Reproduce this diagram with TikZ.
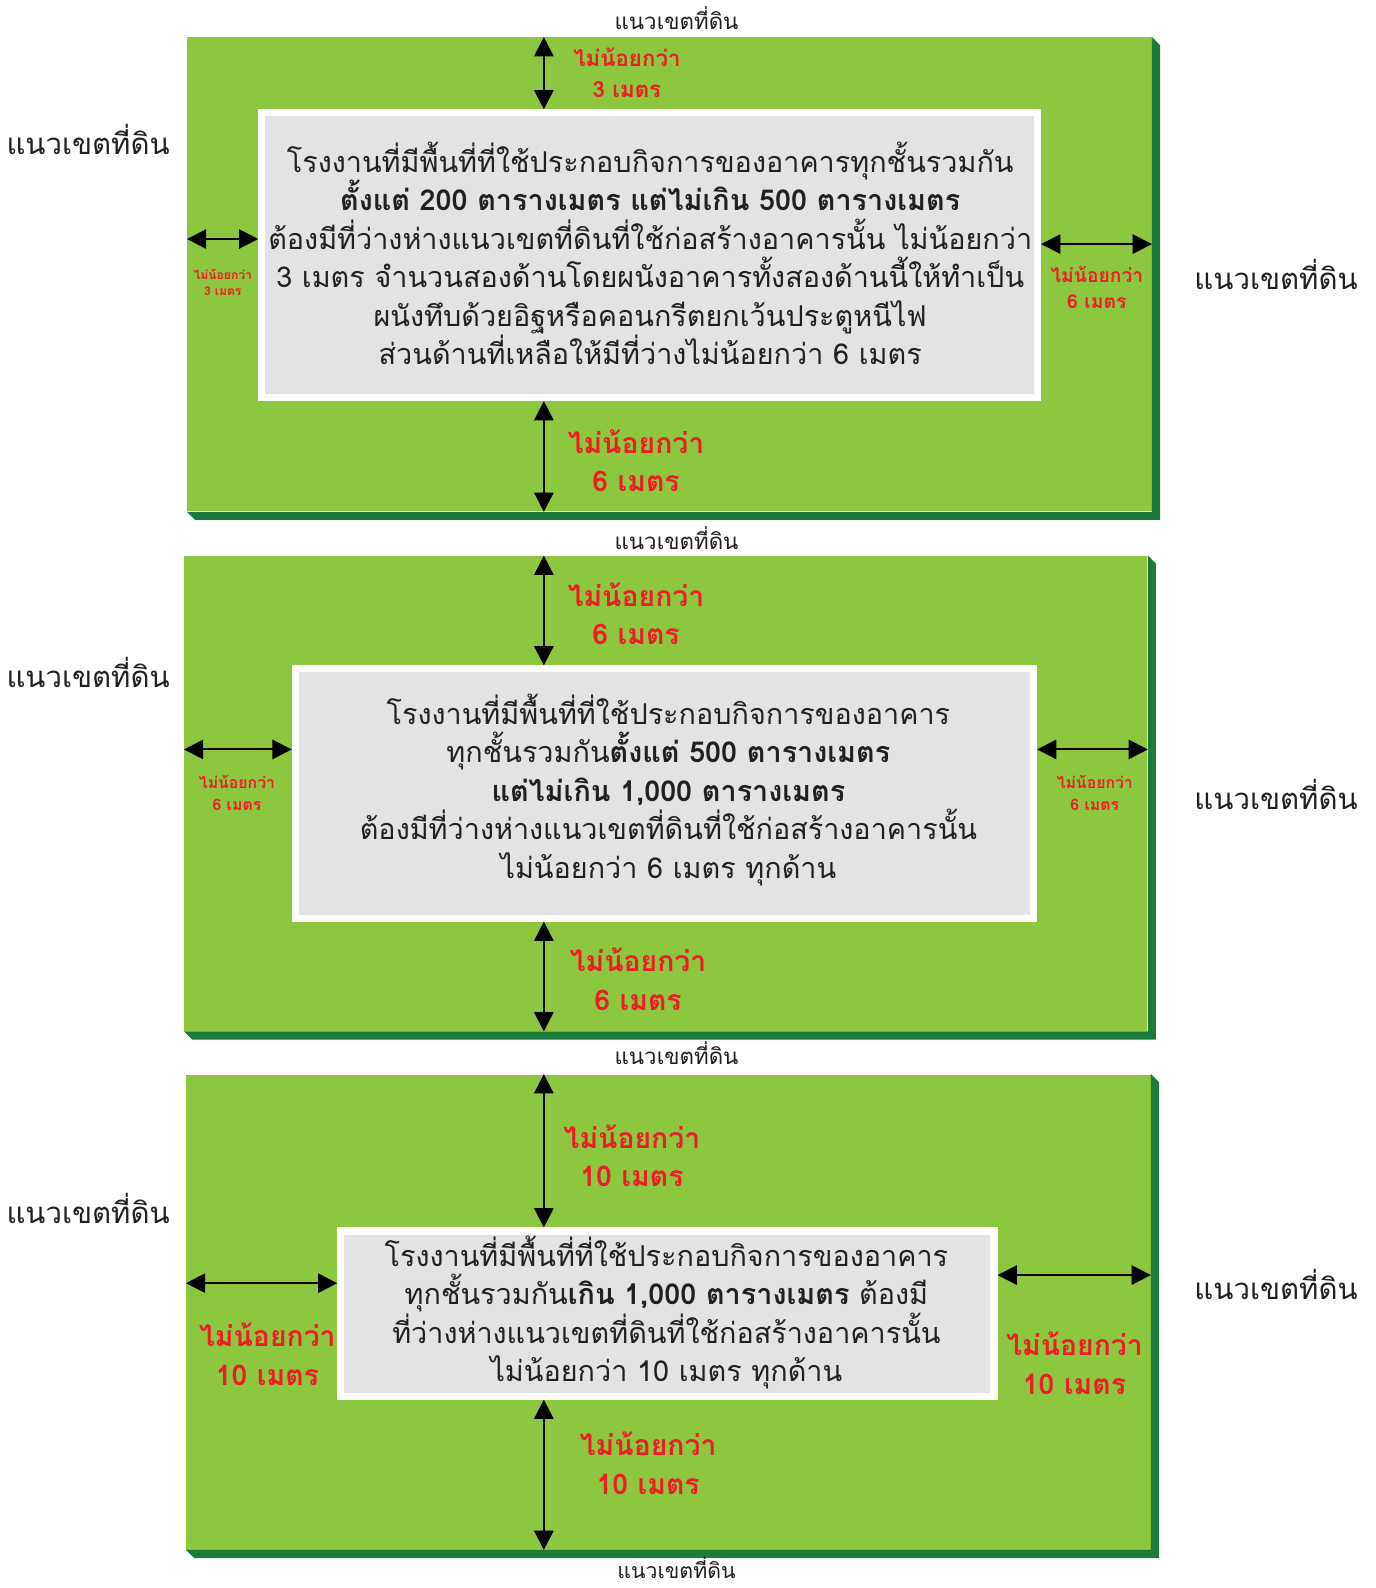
\documentclass[tikz,border=0pt]{standalone}
\usepackage{fontspec}
\setmainfont[Script=Thai]{Loma}
\usetikzlibrary{arrows.meta,fit,calc}
\definecolor{lgreen}{HTML}{8DC63F}
\definecolor{dgreen}{HTML}{1B7A3C}
\definecolor{boxgray}{HTML}{E1E3E5}
\definecolor{myred}{HTML}{EE1C25}
\definecolor{ink}{HTML}{231F20}
\tikzset{
  panel/.style={fill=lgreen, draw=none, inner sep=0pt},
  whitebox/.style={fill=boxgray, draw=white, line width=3.5pt, inner sep=0pt},
  bodytext/.style={align=center, text=ink, inner sep=0pt, font=\fontsize{14.2}{19}\selectfont},
  redlab/.style={align=center, text=myred, inner sep=0pt},
  boundary/.style={text=ink, inner sep=0pt},
  dimarrow/.style={line width=1pt, draw=black, {Triangle[length=9.5pt,width=9.5pt]}-{Triangle[length=9.5pt,width=9.5pt]}},
}
\newcommand{\shadowL}[1]{%
  \fill[dgreen] (#1.south west) -- ($(#1.south west)+(8,8)$) -- ($(#1.south east)+(8,8)$) -- ($(#1.north east)+(8,8)$) -- (#1.north east) -- (#1.south east) -- cycle;}
\begin{document}
\begin{tikzpicture}[x=0.5pt,y=-0.5pt]
\useasboundingbox (0,0) rectangle (1358,1568);
\fill[white] (0,0) rectangle (1358,1568);

% ================= PANEL 1 =================
\node[panel, fit={(185,37) (1137,505)}] (g1) {};
\shadowL{g1}
\node[whitebox, fit={(258.5,111.5) (1024.5,392.5)}] (b1) {};
\node[bodytext] (t1) at (642,250) {โรงงานที่มีพื้นที่ที่ใช้ประกอบกิจการของอาคารทุกชั้นรวมกัน\\
\textbf{ตั้งแต่ 200 ตารางเมตร แต่ไม่เกิน 500 ตารางเมตร}\\
ต้องมีที่ว่างห่างแนวเขตที่ดินที่ใช้ก่อสร้างอาคารนั้น ไม่น้อยกว่า\\
3 เมตร จำนวนสองด้านโดยผนังอาคารทั้งสองด้านนี้ให้ทำเป็น\\
ผนังทึบด้วยอิฐหรือคอนกรีตยกเว้นประตูหนีไฟ\\
ส่วนด้านที่เหลือให้มีที่ว่างไม่น้อยกว่า 6 เมตร};
\coordinate (x1) at (537,0);
\draw[dimarrow] (g1.north -| x1) -- (b1.north -| x1);
\draw[dimarrow] (b1.south -| x1) -- (g1.south -| x1);
\coordinate (y1l) at (0,236);
\coordinate (y1r) at (0,241);
\draw[dimarrow] (g1.west |- y1l) -- (b1.west |- y1l);
\draw[dimarrow] (b1.east |- y1r) -- (g1.east |- y1r);
\node[redlab, font=\bfseries\fontsize{11}{15}\selectfont] (r1t) at (619,72) {ไม่น้อยกว่า\\3 เมตร};
\node[redlab, font=\bfseries\fontsize{6}{8}\selectfont] (r1l) at (220,279) {ไม่น้อยกว่า\\3 เมตร};
\node[redlab, font=\bfseries\fontsize{9.5}{12.5}\selectfont] (r1r) at (1083,284) {ไม่น้อยกว่า\\6 เมตร};
\node[redlab, font=\bfseries\fontsize{14}{19}\selectfont] (r1b) at (628,455) {ไม่น้อยกว่า\\6 เมตร};
\node[boundary, font=\fontsize{11}{13}\selectfont] (n1t) at (668,18) {แนวเขตที่ดิน};
\node[boundary, font=\fontsize{14.5}{17}\selectfont] (n1l) at (87,138) {แนวเขตที่ดิน};
\node[boundary, font=\fontsize{14.5}{17}\selectfont] (n1r) at (1260,271) {แนวเขตที่ดิน};
\node[boundary, font=\fontsize{11}{13}\selectfont] (n12) at (668,531) {แนวเขตที่ดิน};

% ================= PANEL 2 =================
\node[panel, fit={(182,549) (1133,1018)}] (g2) {};
\shadowL{g2}
\node[whitebox, fit={(291.5,660.5) (1020.5,906.5)}] (b2) {};
\node[bodytext] (t2) at (660,780) {โรงงานที่มีพื้นที่ที่ใช้ประกอบกิจการของอาคาร\\
ทุกชั้นรวมกัน\textbf{ตั้งแต่ 500 ตารางเมตร}\\
\textbf{แต่ไม่เกิน 1,000 ตารางเมตร}\\
ต้องมีที่ว่างห่างแนวเขตที่ดินที่ใช้ก่อสร้างอาคารนั้น\\
ไม่น้อยกว่า 6 เมตร ทุกด้าน};
\coordinate (x2) at (537,0);
\draw[dimarrow] (g2.north -| x2) -- (b2.north -| x2);
\draw[dimarrow] (b2.south -| x2) -- (g2.south -| x2);
\coordinate (y2) at (0,740);
\draw[dimarrow] (g2.west |- y2) -- (b2.west |- y2);
\draw[dimarrow] (b2.east |- y2) -- (g2.east |- y2);
\node[redlab, font=\bfseries\fontsize{14}{19}\selectfont] (r2t) at (628,606) {ไม่น้อยกว่า\\6 เมตร};
\node[redlab, font=\bfseries\fontsize{7.8}{11}\selectfont] (r2l) at (234,783) {ไม่น้อยกว่า\\6 เมตร};
\node[redlab, font=\bfseries\fontsize{7.8}{11}\selectfont] (r2r) at (1081,783) {ไม่น้อยกว่า\\6 เมตร};
\node[redlab, font=\bfseries\fontsize{14}{19}\selectfont] (r2b) at (630,967) {ไม่น้อยกว่า\\6 เมตร};
\node[boundary, font=\fontsize{14.5}{17}\selectfont] (n2l) at (87,664) {แนวเขตที่ดิน};
\node[boundary, font=\fontsize{14.5}{17}\selectfont] (n2r) at (1260,784) {แนวเขตที่ดิน};
\node[boundary, font=\fontsize{11}{13}\selectfont] (n23) at (668,1040) {แนวเขตที่ดิน};

% ================= PANEL 3 =================
\node[panel, fit={(184,1061) (1136,1530)}] (g3) {};
\shadowL{g3}
\node[whitebox, fit={(336.5,1215.5) (981.5,1378.5)}] (b3) {};
\node[bodytext] (t3) at (658,1296) {โรงงานที่มีพื้นที่ที่ใช้ประกอบกิจการของอาคาร\\
ทุกชั้นรวมกัน\textbf{เกิน 1,000 ตารางเมตร} ต้องมี\\
ที่ว่างห่างแนวเขตที่ดินที่ใช้ก่อสร้างอาคารนั้น\\
ไม่น้อยกว่า 10 เมตร ทุกด้าน};
\coordinate (x3) at (537,0);
\draw[dimarrow] (g3.north -| x3) -- (b3.north -| x3);
\draw[dimarrow] (b3.south -| x3) -- (g3.south -| x3);
\coordinate (y3l) at (0,1267);
\coordinate (y3r) at (0,1259);
\draw[dimarrow] (g3.west |- y3l) -- (b3.west |- y3l);
\draw[dimarrow] (b3.east |- y3r) -- (g3.east |- y3r);
\node[redlab, font=\bfseries\fontsize{14}{19}\selectfont] (r3t) at (624,1141) {ไม่น้อยกว่า\\10 เมตร};
\node[redlab, font=\bfseries\fontsize{14}{19}\selectfont] (r3l) at (264,1337) {ไม่น้อยกว่า\\10 เมตร};
\node[redlab, font=\bfseries\fontsize{14}{19}\selectfont] (r3r) at (1061,1346) {ไม่น้อยกว่า\\10 เมตร};
\node[redlab, font=\bfseries\fontsize{14}{19}\selectfont] (r3b) at (640,1445) {ไม่น้อยกว่า\\10 เมตร};
\node[boundary, font=\fontsize{14.5}{17}\selectfont] (n3l) at (87,1193) {แนวเขตที่ดิน};
\node[boundary, font=\fontsize{14.5}{17}\selectfont] (n3r) at (1260,1268) {แนวเขตที่ดิน};
\node[boundary, font=\fontsize{10.5}{12}\selectfont] (n3b) at (668,1548) {แนวเขตที่ดิน};
\end{tikzpicture}
\end{document}
